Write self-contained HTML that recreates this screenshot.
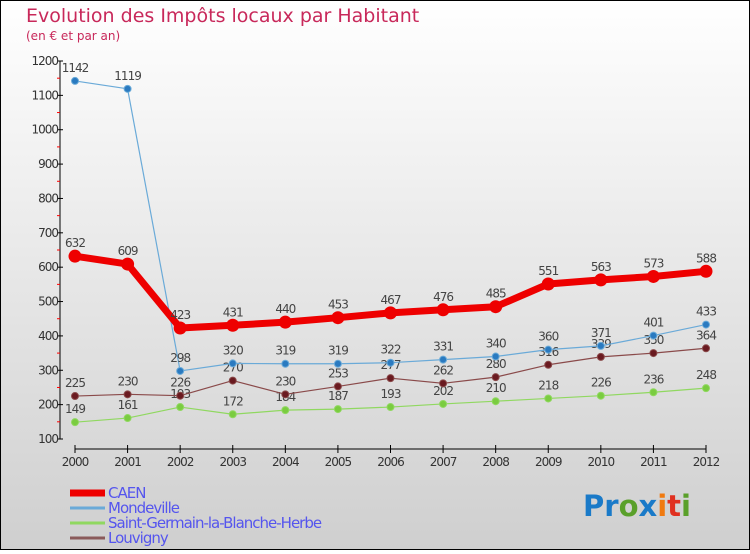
<!DOCTYPE html>
<html><head><meta charset="utf-8"><style>
html,body{margin:0;padding:0}
body{width:750px;height:550px;overflow:hidden;font-family:"DejaVu Sans","Liberation Sans",sans-serif}
</style></head><body>
<svg id="chart" width="750" height="550" xmlns="http://www.w3.org/2000/svg">
<defs><linearGradient id="bg" x1="0" y1="0" x2="0" y2="1"><stop offset="0" stop-color="#ffffff"/><stop offset="1" stop-color="#cfcfcf"/></linearGradient></defs>
<rect x="0.5" y="0.5" width="749" height="549" fill="url(#bg)" stroke="#000"/>
<text x="26" y="22" font-size="19" fill="#c8285a">Evolution des Impôts locaux par Habitant</text>
<text x="26" y="40" font-size="12" fill="#c8285a">(en € et par an)</text>
<g id="axes"></g><g id="series"></g><g id="legend"></g>
<text x="583" y="516" font-size="29" font-weight="bold" font-family="'DejaVu Sans',sans-serif"><tspan fill="#1a7ac8">Pr</tspan><tspan fill="#5aa02a">o</tspan><tspan fill="#1a7ac8">x</tspan><tspan fill="#f07a10">i</tspan><tspan fill="#e03020">t</tspan><tspan fill="#5aa02a">i</tspan></text>
</svg>
<script>
const years=[2000,2001,2002,2003,2004,2005,2006,2007,2008,2009,2010,2011,2012];
const caen=[632,609,423,431,440,453,467,476,485,551,563,573,588];
const mondeville=[1142,1119,298,320,319,319,322,331,340,360,371,401,433];
const stGermain=[149,161,193,172,184,187,193,202,210,218,226,236,248];
const louvigny=[225,230,226,270,230,253,277,262,280,316,339,350,364];
const yTicks=[100,200,300,400,500,600,700,800,900,1000,1100,1200];
const NS="http://www.w3.org/2000/svg";
const x=i=>75+i*(706-75)/12;
const y=v=>439-(v-100)*(439-61)/1100;
function mk(tag,attrs,parent,text){const e=document.createElementNS(NS,tag);for(const k in attrs)e.setAttribute(k,attrs[k]);if(text!==undefined)e.textContent=text;parent.appendChild(e);return e;}
const ax=document.getElementById('axes');
let l=mk('line',{x1:60,y1:61,x2:60,y2:439,stroke:'#000'},ax);


l=mk('line',{x1:75,y1:449,x2:706,y2:449,stroke:'#000'},ax);


yTicks.forEach((t,i)=>{
 mk('line',{x1:57,y1:y(t),x2:63,y2:y(t),stroke:'#000'},ax);
 if(i<yTicks.length-1)mk('line',{x1:57,y1:y(t+50),x2:60,y2:y(t+50),stroke:'#f00'},ax);
 const tx=mk('text',{x:58,y:y(t)+4,'font-size':12,fill:'#333','text-anchor':'end','letter-spacing':'-1'},ax,t);
 
 
});
years.forEach((yr,i)=>{
 mk('line',{x1:x(i),y1:445,x2:x(i),y2:453,stroke:'#000'},ax);
 const tx=mk('text',{x:x(i),y:466,'font-size':12,fill:'#333','text-anchor':'middle','letter-spacing':'-1'},ax,yr);
 
 
});
const sg=document.getElementById('series');
function series(vals,color,w,r,dot,name){
 const g=mk('g',{},sg);
 
 
 const p=mk('polyline',{points:vals.map((v,i)=>x(i)+','+y(v)).join(' '),fill:'none',stroke:color,'stroke-width':w,'stroke-linejoin':'round'},g);
 
 
 vals.forEach((v,i)=>{
  const c=mk('circle',{cx:x(i),cy:y(v),r:r,fill:dot,stroke:color,'stroke-width':w>4?0:1},g);
  
  
  const t=mk('text',{x:x(i),y:y(v)-9,'font-size':12,fill:'#444','text-anchor':'middle','letter-spacing':'-1'},g,v);
  
  
 });
}
series(stGermain,'#90d860',1.2,3.5,'#7acc40','saint-germain');
series(louvigny,'#8a4a4a',1.2,3.5,'#6a1a20','louvigny');
series(mondeville,'#6aaad8',1.2,3.5,'#2a7ac0','mondeville');
series(caen,'#ee0000',7,6.5,'#ee0000','caen');
const lg=document.getElementById('legend');
[['CAEN','#ee0000',7],['Mondeville','#6aaad8',3],['Saint-Germain-la-Blanche-Herbe','#90d860',3],['Louvigny','#8a5a5a',3]].forEach((e,i)=>{
 const yy=492+i*15;
 const ln=mk('line',{x1:70,y1:yy+1,x2:105,y2:yy+1,stroke:e[1],'stroke-width':e[2]},lg);
 
 
 const t=mk('text',{x:108,y:yy+6,'font-size':15,fill:'#5555ee','letter-spacing':'-1'},lg,e[0]);
 
 
});
</script>
</body></html>
